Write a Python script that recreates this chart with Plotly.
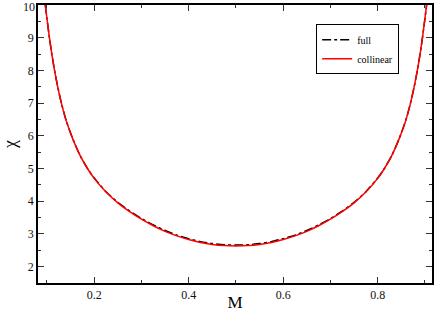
import plotly.graph_objects as go

m_values = [0.0964, 0.100, 0.105, 0.110, 0.116, 0.123, 0.131, 0.141, 0.154, 0.170, 0.187, 0.2,
            0.225, 0.25, 0.275, 0.3, 0.325, 0.35, 0.375, 0.4, 0.425, 0.45, 0.475, 0.5,
            0.525, 0.55, 0.575, 0.6, 0.625, 0.65, 0.675, 0.7, 0.725, 0.75, 0.775, 0.8,
            0.813, 0.830, 0.846, 0.859, 0.869, 0.877, 0.884, 0.890, 0.895, 0.900, 0.9036]
chi_collinear = [10.0, 9.58, 9.02, 8.52, 8.0, 7.48, 6.97, 6.45, 5.93, 5.40, 4.97, 4.70,
                 4.28, 3.95, 3.68, 3.45, 3.25, 3.08, 2.94, 2.83, 2.74, 2.68, 2.645, 2.635,
                 2.645, 2.68, 2.74, 2.83, 2.94, 3.08, 3.25, 3.45, 3.68, 3.95, 4.28, 4.70,
                 4.97, 5.40, 5.93, 6.45, 6.97, 7.48, 8.0, 8.52, 9.02, 9.58, 10.0]
chi_full = [10.0, 9.58, 9.02, 8.52, 8.0, 7.48, 6.97, 6.45, 5.93, 5.40, 4.97, 4.71,
            4.29, 3.965, 3.70, 3.47, 3.275, 3.105, 2.965, 2.855, 2.765, 2.705, 2.67, 2.66,
            2.67, 2.705, 2.765, 2.855, 2.965, 3.105, 3.275, 3.47, 3.70, 3.965, 4.29, 4.71,
            4.97, 5.40, 5.93, 6.45, 6.97, 7.48, 8.0, 8.52, 9.02, 9.58, 10.0]

x_tickvals = [0.2, 0.4, 0.6, 0.8]
x_ticktext = ["0.2", "0.4", "0.6", "0.8"]
y_tickvals = [2, 3, 4, 5, 6, 7, 8, 9, 10]
y_ticktext = [str(v) for v in y_tickvals]

font_family = "Liberation Serif, Times New Roman, serif"
tick_font = dict(family=font_family, size=12, color="#111111")

fig = go.Figure()
fig.add_trace(go.Scatter(x=m_values, y=chi_full, mode="lines", name="full",
                         line=dict(color="black", width=1.5, dash="dashdot", shape="spline", smoothing=0.6)))
fig.add_trace(go.Scatter(x=m_values, y=chi_collinear, mode="lines", name="collinear",
                         line=dict(color="#ff0000", width=1.5, shape="spline", smoothing=0.6)))

axis_common = dict(showline=True, linecolor="black", linewidth=1.5, mirror="ticks",
                   ticks="inside", ticklen=6, tickwidth=1, tickcolor="#333333",
                   showgrid=False, zeroline=False, tickfont=tick_font, automargin=False)

fig.update_xaxes(range=[0.081, 0.915], tickvals=x_tickvals, ticktext=x_ticktext,
                 minor=dict(ticks="inside", ticklen=3, tickcolor="#333333", dtick=0.1, tick0=0.1),
                 title=dict(text="M", font=dict(family=font_family, size=17, color="black"), standoff=0),
                 **axis_common)
# the top tick label is written as an annotation (plotly drops the label at the range edge)
fig.update_yaxes(range=[1.5, 10.0], tickvals=y_tickvals[:-1], ticktext=y_ticktext[:-1],
                 minor=dict(ticks="inside", ticklen=3, tickcolor="#333333", dtick=0.5, tick0=0.5),
                 title=dict(text="χ", font=dict(family=font_family, size=18, color="black"), standoff=10),
                 **axis_common)
fig.add_annotation(x=0, xref="paper", y=y_tickvals[-1], yref="y", text=y_ticktext[-1],
                   showarrow=False, xanchor="right", yanchor="middle", xshift=-1, yshift=-2,
                   font=tick_font)

fig.update_layout(
    width=436, height=312,
    margin=dict(l=38, r=4, t=5, b=29),
    plot_bgcolor="white", paper_bgcolor="white",
    font=dict(family=font_family),
    legend=dict(x=0.706, y=0.931, xanchor="left", yanchor="top",
                bgcolor="white", bordercolor="black", borderwidth=1,
                font=dict(family=font_family, size=10, color="black"),
                tracegroupgap=0, itemwidth=30),
    showlegend=True,
)

fig.write_html("out.html", config={"displayModeBar": False},
               post_script="document.body.style.margin='0';")
